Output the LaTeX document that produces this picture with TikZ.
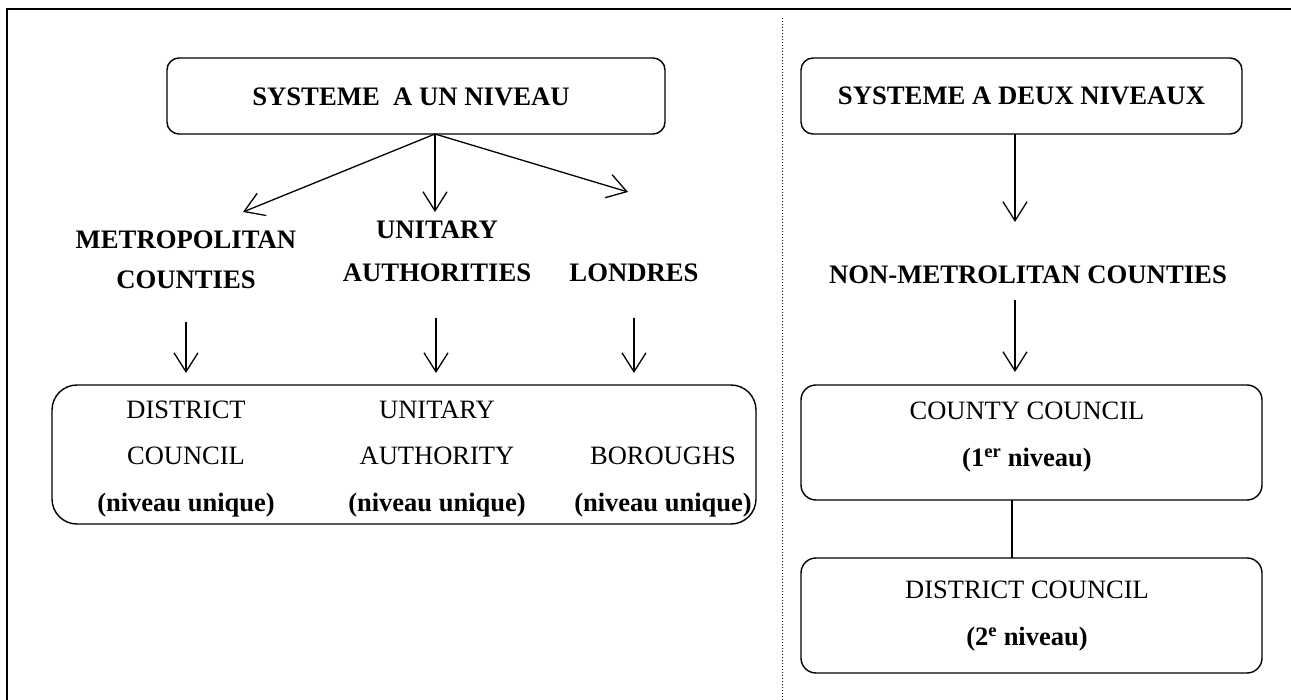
\documentclass[tikz,border=0pt]{standalone}
\usepackage{fontspec}
\setmainfont{Liberation Serif}
\usetikzlibrary{arrows.meta}
\tikzset{
  box/.style={draw, line width=1.4pt, rounded corners=#1, inner sep=0pt},
  box/.default=12pt,
  lbl/.style={font=\fontsize{26.5}{46.5}\selectfont, inner sep=0pt, align=center},
  blbl/.style={font=\bfseries\fontsize{26.7}{43}\selectfont, inner sep=0pt, align=center},
  arr/.style={line width=1.3pt, -{Straight Barb[length=19pt,width=24pt,line width=1.3pt]}},
  link/.style={line width=1.3pt},
}
\begin{document}
\begin{tikzpicture}[x=1pt,y=-1pt]
\useasboundingbox (0,0) rectangle (1291,700);
% frame
\coordinate (fbl) at (7,700);
\coordinate (ftl) at (7,9);
\coordinate (ftr) at (1291,9);
\draw[line width=1.5pt] (fbl) -- (ftl) -- (ftr);
\coordinate (dt) at (782,18);
\coordinate (db) at (782,700);
\draw[dotted, line width=1pt] (dt) -- (db);

% top boxes
\node[box, minimum width=498pt, minimum height=76pt] (b1) at (416,96) {};
\node[blbl] (b1t) at (411,97) {SYSTEME\ \ A UN NIVEAU};
\node[box, minimum width=441pt, minimum height=76pt, blbl] (b2) at (1021.5,96) {SYSTEME A DEUX NIVEAUX};

% level-2 labels
\node[blbl, font=\bfseries\fontsize{26.7}{40}\selectfont] (metro) at (186,260) {METROPOLITAN\\COUNTIES};
\node[blbl] (unit) at (437,251.5) {UNITARY\\AUTHORITIES};
\node[blbl] (lond) at (634,273) {LONDRES};
\node[blbl] (nonm) at (1028,275) {NON-METROLITAN COUNTIES};

% arrows from top box
\coordinate (o1) at (435,134);
\coordinate (tL) at (243,212);
\coordinate (tM) at (435,212);
\coordinate (tR) at (628,192);
\draw[arr] (o1) -- (tL);
\draw[arr] (o1) -- (tM);
\draw[arr] (o1) -- (tR);

% bottom left box
\node[box=25pt, minimum width=704pt, minimum height=139pt] (bl) at (404,454.5) {};
\node[lbl] (dc) at (186,459) {DISTRICT\\COUNCIL\\\textbf{(niveau unique)}};
\node[lbl] (ua) at (437,459) {UNITARY\\AUTHORITY\\\textbf{(niveau unique)}};
\node[lbl] (bo) at (663,482) {BOROUGHS\\\textbf{(niveau unique)}};

% small arrows
\coordinate (s1a) at (186,322); \coordinate (s1b) at (186,373);
\coordinate (s2a) at (436,318); \coordinate (s2b) at (436,373);
\coordinate (s3a) at (634,318); \coordinate (s3b) at (634,373);
\draw[arr] (s1a) -- (s1b);
\draw[arr] (s2a) -- (s2b);
\draw[arr] (s3a) -- (s3b);

% right side
\node[box=15pt, minimum width=461pt, minimum height=115pt] (cc) at (1031.5,442.5) {};
\node[lbl] (cct) at (1027,437) {COUNTY COUNCIL\\\textbf{(1\textsuperscript{er} niveau)}};
\node[box=15pt, minimum width=461pt, minimum height=115pt] (dcb) at (1031.5,615.5) {};
\node[lbl] (dct) at (1027,616) {DISTRICT COUNCIL\\\textbf{(2\textsuperscript{e} niveau)}};

\coordinate (r1a) at (1015,134); \coordinate (r1b) at (1015,222);
\coordinate (r2a) at (1015,300); \coordinate (r2b) at (1015,372);
\draw[arr] (r1a) -- (r1b);
\draw[arr] (r2a) -- (r2b);
\coordinate (la) at (1012,500); \coordinate (lb) at (1012,558);
\draw[link] (la) -- (lb);
\end{tikzpicture}
\end{document}
